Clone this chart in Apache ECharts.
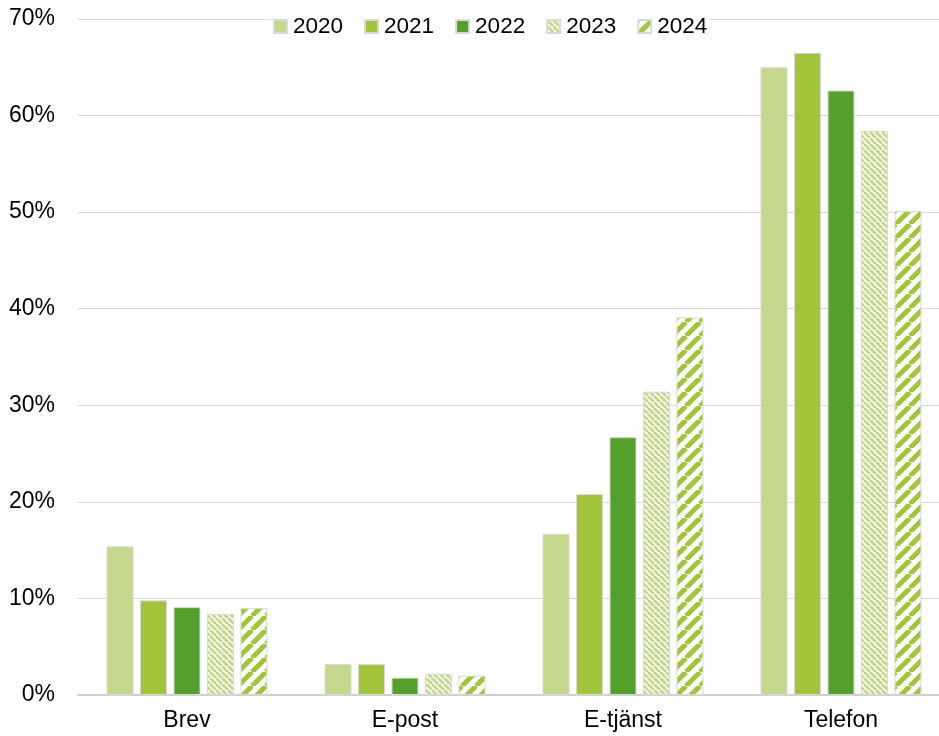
<!DOCTYPE html>
<html>
<head>
<meta charset="utf-8">
<script src="https://cdn.jsdelivr.net/npm/echarts@6/dist/echarts.min.js"></script>
<style>
  html, body { margin: 0; padding: 0; background: #ffffff; overflow: hidden; }
  #chart { width: 950px; height: 736px; }
</style>
</head>
<body>
<div id="chart"></div>
<script>
const categories = ["Brev", "E-post", "E-tjänst", "Telefon"];
const years = ["2020", "2021", "2022", "2023", "2024"];
const values2020 = [15.4, 3.2, 16.7, 65.0];
const values2021 = [9.8, 3.2, 20.8, 66.5];
const values2022 = [9.1, 1.8, 26.7, 62.6];
const values2023 = [8.4, 2.2, 31.4, 58.4];
const values2024 = [9.0, 2.0, 39.1, 50.1];
const seriesValues = [values2020, values2021, values2022, values2023, values2024];

// striped fills for 2023 ("\") and 2024 ("/")
function stripes(color, size, width, rising) {
  const c = document.createElement("canvas");
  c.width = size;
  c.height = size;
  const ctx = c.getContext("2d");
  ctx.fillStyle = "#ffffff";
  ctx.fillRect(0, 0, size, size);
  ctx.strokeStyle = color;
  ctx.lineWidth = width;
  for (const x0 of [-size, 0, size]) {
    ctx.beginPath();
    if (rising) {
      ctx.moveTo(x0, size);
      ctx.lineTo(x0 + size, 0);
    } else {
      ctx.moveTo(x0, 0);
      ctx.lineTo(x0 + size, size);
    }
    ctx.stroke();
  }
  return { image: c, repeat: "repeat" };
}

const fills = [
  "#c3d88a",
  "#a2c43a",
  "#55a02c",
  stripes("#c3d88a", 6, 2.8, false),
  stripes("#a2c43a", 14, 5, true),
];

const chart = echarts.init(document.getElementById("chart"));

chart.setOption({
  animation: false,
  backgroundColor: "#ffffff",
  textStyle: { fontFamily: "Liberation Sans, Arial, sans-serif" },
  legend: {
    top: 12,
    left: 271,
    backgroundColor: "#ffffff",
    padding: [3, 2],
    itemWidth: 13,
    itemHeight: 13,
    itemGap: 21,
    textStyle: { color: "#000000", fontSize: 22.5, padding: [0, 0, 0, 1] },
    data: years.map((y) => ({ name: y, icon: "rect" })),
  },
  grid: {
    top: 19,
    left: 78,
    right: 0,
    bottom: 41,
  },
  xAxis: {
    type: "category",
    data: categories,
    axisLine: { lineStyle: { color: "#d0d0d0", width: 2 } },
    axisTick: { show: false },
    axisLabel: { color: "#000000", fontSize: 23, margin: 14 },
  },
  yAxis: {
    type: "value",
    min: 0,
    max: 70,
    interval: 10,
    axisLabel: { color: "#000000", fontSize: 23, margin: 23, formatter: "{value}%" },
    axisLine: { show: false },
    axisTick: { show: false },
    splitLine: { lineStyle: { color: "#d9d9d9", width: 1 } },
  },
  series: years.map((y, i) => ({
    name: y,
    type: "bar",
    data: seriesValues[i],
    barWidth: 27,
    barGap: "24%",
    itemStyle: {
      color: fills[i],
      borderColor: "#d9d9d9",
      borderWidth: 1,
    },
  })),
});
</script>
</body>
</html>
